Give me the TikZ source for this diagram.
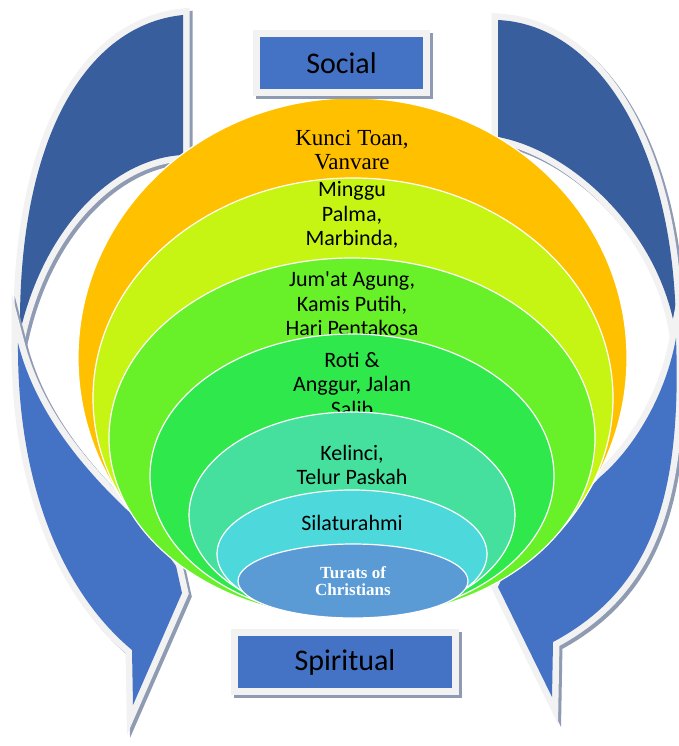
\documentclass[tikz,border=0pt]{standalone}
\usepackage{fontspec}
\setmainfont{Carlito}
\newfontfamily\tnr{Liberation Serif}
\definecolor{ubandc}{HTML}{385E9E}
\definecolor{lbandc}{HTML}{4472C4}
\definecolor{rimc}{HTML}{F2F2F2}
\definecolor{shadc}{HTML}{8F9BB3}
\definecolor{layA}{HTML}{FFC000}
\definecolor{layB}{HTML}{C6F514}
\definecolor{layC}{HTML}{68F028}
\definecolor{layD}{HTML}{2EE84C}
\definecolor{layE}{HTML}{45E09E}
\definecolor{layF}{HTML}{4DD9DB}
\definecolor{layG}{HTML}{5B9BD5}
\newcommand\bandshape[2]{%
  \path[draw=shadc,line width=13pt,line join=miter,shift={(3,3)}] #2;
  \path[draw=rimc,line width=13pt,line join=miter] #2;
  \path[fill=#1] #2;}
\begin{document}
\begin{tikzpicture}[x=1pt,y=-1pt,
  layer/.style={draw=white,line width=1.2pt},
  sanstxt/.style={align=center,font=\fontsize{22}{24.5}\selectfont,inner sep=0pt},
  sertxt/.style={align=center,font=\tnr\fontsize{23}{24}\selectfont,inner sep=0pt},
  coretxt/.style={align=center,text=white,font=\tnr\bfseries\fontsize{17}{17.5}\selectfont,inner sep=0pt},
  lbl/.style={fill=lbandc,draw=rimc,line width=7pt,inner sep=0pt,
    font=\fontsize{30}{36}\selectfont,minimum height=59pt,
    preaction={draw=shadc,line width=7pt,transform canvas={shift={(3pt,-3pt)}}}}
]
\useasboundingbox (0,0) rectangle (679,746);
% upper bands
\bandshape{ubandc}{(183,15) .. controls (85,25) and (18,140) .. (20,332) .. controls (45,225) and (115,158) .. (183,155) -- cycle}
\bandshape{ubandc}{(498,20) .. controls (600,25) and (676,150) .. (676,335) .. controls (660,230) and (570,150) .. (498,137) -- cycle}
% lower bands
\bandshape{lbandc}{(18,343) .. controls (17,480) and (60,590) .. (132,650) -- (133,705) -- (182,593) -- (176,566) -- (150,530) -- (126,509) .. controls (80,465) and (35,410) .. (18,343) -- cycle}
\bandshape{lbandc}{(676,338) .. controls (682,500) and (650,590) .. (553,642) -- (552,697) -- (498,587) -- (505,572) -- (560,520) -- (600,477) .. controls (630,452) and (665,400) .. (676,338) -- cycle}
% layers
\draw[layer,fill=layA] (352.5,358) ellipse [x radius=274.5, y radius=260];
\node[sertxt] (kunci) at (352,150) {Kunci Toan,\\Vanvare};
\draw[layer,fill=layB] (353,398) ellipse [x radius=260, y radius=220];
\node[sanstxt] (minggu) at (352,215) {Minggu\\Palma,\\Marbinda,};
\draw[layer,fill=layC] (352,438) ellipse [x radius=243, y radius=180];
\node[sanstxt] (jumat) at (352,304) {Jum\textquotesingle at Agung,\\Kamis Putih,\\Hari Pentakosa};
\draw[layer,fill=layD] (352,476) ellipse [x radius=202, y radius=142];
\node[sanstxt] (roti) at (352,384) {Roti \&\\Anggur, Jalan\\Salib};
\draw[layer,fill=layE] (352,515) ellipse [x radius=163, y radius=103];
\node[sanstxt] (kelinci) at (352,465) {Kelinci,\\Telur Paskah};
\draw[layer,fill=layF] (352,554) ellipse [x radius=135, y radius=64];
\node[sanstxt] (silat) at (352,523) {Silaturahmi};
\draw[layer,fill=layG] (353,581) ellipse [x radius=115, y radius=37];
\node[coretxt] (turats) at (353,581) {Turats of\\Christians};
% labels
\node[lbl,minimum width=170pt] (social) at (341.5,63) {Social};
\node[lbl,minimum width=221pt] (spiritual) at (345,662) {Spiritual};
\end{tikzpicture}
\end{document}
